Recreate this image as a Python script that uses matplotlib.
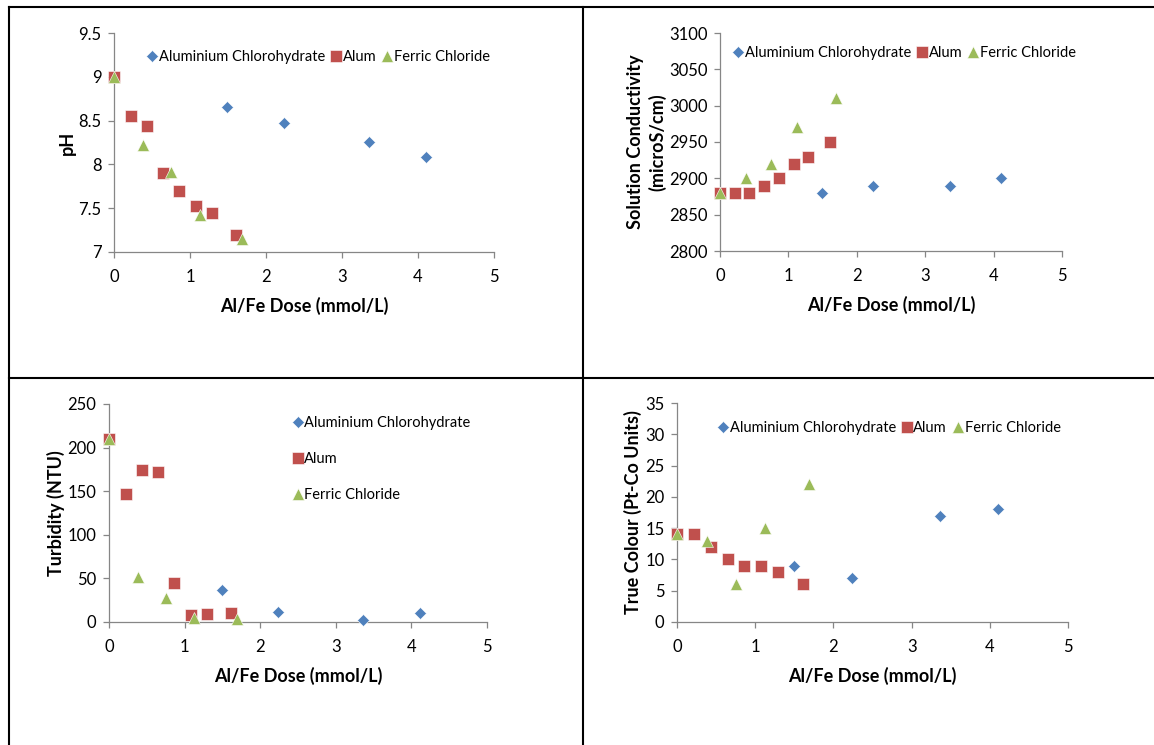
import matplotlib
matplotlib.use("Agg")
import matplotlib.pyplot as plt
from matplotlib.lines import Line2D

plt.rcParams['font.family'] = ['Lato', 'DejaVu Sans']

# dose (mmol/L) for each coagulant
ach_x = [1.49, 2.24, 3.36, 4.11]
alum_x = [0, 0.22, 0.43, 0.65, 0.86, 1.08, 1.29, 1.61]
fe_x = [0, 0.38, 0.75, 1.13, 1.69]

# pH
ach_ph = [8.65, 8.47, 8.26, 8.09]
alum_ph = [9.0, 8.55, 8.44, 7.9, 7.7, 7.52, 7.44, 7.19]
fe_ph = [9.0, 8.22, 7.91, 7.42, 7.15]

# conductivity
ach_cond = [2880, 2890, 2890, 2900]
alum_cond = [2880, 2880, 2880, 2890, 2900, 2920, 2930, 2950]
fe_cond = [2880, 2900, 2920, 2970, 3010]

# turbidity
ach_turb = [37, 12, 2, 10]
alum_turb = [210, 147, 174, 172, 45, 8, 9, 10]
fe_turb = [210, 52, 27, 5, 3.5]

# true colour
ach_col = [9, 7, 17, 18]
alum_col = [14, 14, 12, 10, 9, 9, 8, 6]
fe_col = [14, 13, 6, 15, 22]

names = ['Aluminium Chlorohydrate', 'Alum', 'Ferric Chloride']
blue, red, green = '#4F81BD', '#C0504D', '#9BBB59'
axcol = '#868686'

W, H = 1154, 745
fig = plt.figure(figsize=(W / 100, H / 100), dpi=100)


def box(x0, y0, x1, y1):
    return [x0 / W, 1 - y1 / H, (x1 - x0) / W, (y1 - y0) / H]


def panel(rect, series, ylim, yticks, ylabel, legend_kw, ylx=None):
    ax = fig.add_axes(rect)
    (ax_x, ay), (bx, by), (fx, fy) = series
    kw = dict(mec='white', mew=0.4, clip_on=False, zorder=3)
    ax.plot(ax_x, ay, 'D', color=blue, ms=6.5, label=names[0], **kw)
    ax.plot(bx, by, 's', color=red, ms=8, label=names[1], **kw)
    ax.plot(fx, fy, '^', color=green, ms=8, label=names[2], **kw)
    ax.set_xlim(0, 5)
    ax.set_ylim(*ylim)
    ax.set_xticks(range(6))
    ax.set_yticks(yticks)
    ax.set_yticklabels([('%g' % t) for t in yticks])
    for s in ['top', 'right']:
        ax.spines[s].set_visible(False)
    for s in ['left', 'bottom']:
        ax.spines[s].set_color(axcol)
        ax.spines[s].set_linewidth(0.9)
    ax.tick_params(colors=axcol, labelcolor='black', labelsize=12,
                   direction='out', length=4, width=0.9)
    ax.tick_params(axis='x', pad=8)
    ax.tick_params(axis='y', pad=5)
    ax.set_xlabel('Al/Fe Dose (mmol/L)', fontsize=13, fontweight='bold', labelpad=9)
    if ylx is None:
        ax.set_ylabel(ylabel, fontsize=13, fontweight='bold', labelpad=2)
    else:
        ax.set_ylabel(ylabel, fontsize=13, fontweight='bold', va='center', linespacing=1.3)
        ax.yaxis.set_label_coords(ylx, 0.5)
    ax.legend(frameon=False, fontsize=10.5, handletextpad=0.1, handlelength=0.7,
              borderaxespad=0, loc='upper left', **legend_kw)
    return ax


panel(box(114, 33, 494, 252),
      [(ach_x, ach_ph), (alum_x, alum_ph), (fe_x, fe_ph)],
      (7, 9.5), [7, 7.5, 8, 8.5, 9, 9.5], 'pH',
      dict(ncol=3, columnspacing=0.4, bbox_to_anchor=(0.072, 0.95)))

panel(box(720, 33, 1062, 251),
      [(ach_x, ach_cond), (alum_x, alum_cond), (fe_x, fe_cond)],
      (2800, 3100), range(2800, 3101, 50), 'Solution Conductivity\n(microS/cm)',
      dict(ncol=3, columnspacing=0.4, bbox_to_anchor=(0.022, 0.965)), ylx=-0.215)

panel(box(109, 404, 487, 622),
      [(ach_x, ach_turb), (alum_x, alum_turb), (fe_x, fe_turb)],
      (0, 250), range(0, 251, 50), 'Turbidity (NTU)',
      dict(ncol=1, labelspacing=1.5, bbox_to_anchor=(0.47, 0.97)))

panel(box(677, 403, 1068, 622),
      [(ach_x, ach_col), (alum_x, alum_col), (fe_x, fe_col)],
      (0, 35), range(0, 36, 5), 'True Colour (Pt-Co Units)',
      dict(ncol=3, columnspacing=0.4, bbox_to_anchor=(0.09, 0.946)))

# table borders
lw = 1.5
fig.add_artist(Line2D([8.5 / W, 8.5 / W], [0, 1 - 6.5 / H], color='black', lw=lw))
fig.add_artist(Line2D([8.5 / W, 1], [1 - 6.5 / H, 1 - 6.5 / H], color='black', lw=lw))
fig.add_artist(Line2D([582.5 / W, 582.5 / W], [0, 1 - 6.5 / H], color='black', lw=lw))
fig.add_artist(Line2D([8.5 / W, 1], [1 - 377.5 / H, 1 - 377.5 / H], color='black', lw=lw))

fig.savefig('out.png', dpi=100)
